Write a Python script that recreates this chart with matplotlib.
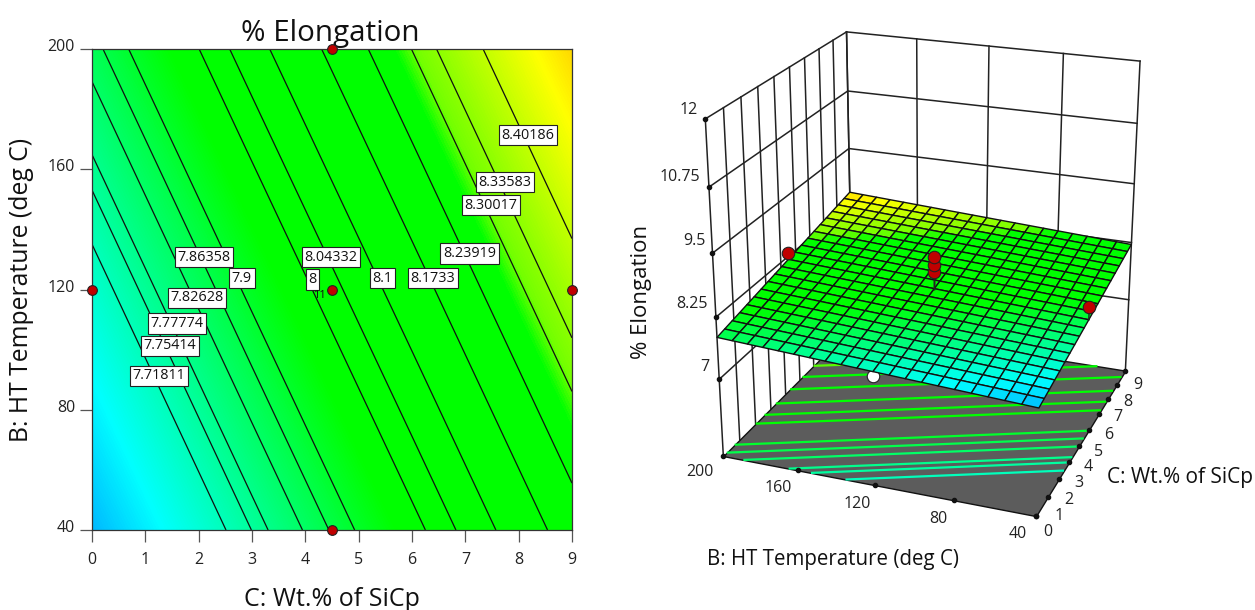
import numpy as np
import matplotlib
matplotlib.use('Agg')
import matplotlib.pyplot as plt
import matplotlib.tri as mtri
from matplotlib.colors import LinearSegmentedColormap, Normalize
from matplotlib.transforms import ScaledTranslation

plt.rcParams['font.family'] = ['Open Sans', 'DejaVu Sans']

# response table
c_grid = [0, 3, 6, 9]
b_grid = [40, 120, 200]
z_grid = [[7.528, 7.755, 7.981, 8.208],
          [7.688, 7.915, 8.141, 8.368],
          [7.848, 8.075, 8.301, 8.528]]

contour_levels = [7.71811, 7.75414, 7.77774, 7.82628, 7.86358, 7.9, 8.0, 8.04332,
                  8.1, 8.1733, 8.23919, 8.30017, 8.33583, 8.40186]
level_names = ['7.71811', '7.75414', '7.77774', '7.82628', '7.86358', '7.9', '8', '8.04332',
               '8.1', '8.1733', '8.23919', '8.30017', '8.33583', '8.40186']

design_c = [4.5, 4.5, 0, 9, 4.5]
design_b = [200, 40, 120, 120, 120]

c_ticks = list(range(10))
b_ticks = [40, 80, 120, 160, 200]
z_ticks = [7, 8.25, 9.5, 10.75, 12]
z_tick_names = ['7', '8.25', '9.5', '10.75', '12']

# points that stand over / under the 3D surface
above_c = [4.5, 4.5, 4.5, 4.5, 4.5]
above_b = [200, 40, 120, 120, 120]
above_z = [8.32, 8.12, 8.38, 8.52, 8.68]
below_c = [0]
below_b = [120]
below_z = [7.6]

Z = np.array(z_grid)
Cg, Bg = np.meshgrid(c_grid, b_grid)
cmap = LinearSegmentedColormap.from_list('de', [
    (0.0, (0, 0.72, 1)), (0.1, (0, 1, 1)), (0.43, (0, 1, 0)), (0.75, (0, 1, 0)),
    (0.78, (0.45, 1, 0)), (0.95, (1, 1, 0)), (1.0, (1, 0.85, 0))])
norm = Normalize(7.528, 8.528)

fig = plt.figure(figsize=(12.55, 6.1), dpi=100)
W, H = 1255., 610.


def px_rect(left, top, right, bottom):
    return [left / W, 1 - bottom / H, (right - left) / W, (bottom - top) / H]


def px_text(x, y, s, **kw):
    kw.setdefault('ha', 'center')
    kw.setdefault('va', 'center')
    kw.setdefault('fontsize', 11.5)
    kw.setdefault('color', '#222222')
    fig.text(x / W, 1 - y / H, s, **kw)


# left: contour plot
ax = fig.add_axes(px_rect(92, 49, 572, 530))
fill = ax.contourf(Cg, Bg, Z, levels=np.linspace(7.528, 8.528, 257), cmap=cmap, norm=norm,
                   extend='both')
ax.contour(Cg, Bg, Z, levels=contour_levels, colors='#101010', linewidths=0.9)
ax.set_xlim(0, 9)
ax.set_ylim(40, 200)
ax.set_xticks(c_ticks)
ax.set_yticks(b_ticks)
ax.tick_params(length=8.6, width=0.9, color='#555555', labelsize=11.5, labelcolor='#222222')
ax.tick_params(axis='x', pad=7)
ax.tick_params(axis='y', pad=3.6)
# the y tick labels sit a little above their ticks
up = ScaledTranslation(0, 4 / 100, fig.dpi_scale_trans)
for lab in ax.get_yticklabels():
    lab.set_transform(lab.get_transform() + up)
for sp in ax.spines.values():
    sp.set_color('#333333')
    sp.set_linewidth(0.9)
ax.set_title('% Elongation', fontsize=21.3, pad=6, x=0.496, color='#111111')
ax.set_xlabel('C: Wt.% of SiCp', fontsize=18, labelpad=14, color='#111111')
ax.set_ylabel('B: HT Temperature (deg C)', fontsize=17.8, labelpad=9.5, color='#111111')

label_x = [1.26, 1.46, 1.59, 1.97, 2.10, 2.81, 4.13, 4.48, 5.45, 6.39, 7.08, 7.48, 7.74, 8.17]
label_y = [91.3, 101.3, 108.7, 117.3, 130.7, 123.7, 123.3, 130.7, 123.7, 123.7, 132, 148, 155.7, 171.3]
for lx, ly, name in zip(label_x, label_y, level_names):
    ax.text(lx, ly, name, ha='center', va='center', fontsize=10.4, color='#111111', zorder=4,
            bbox=dict(boxstyle='square,pad=0.18', fc='white', ec='#222222', lw=0.8))
ax.text(4.27, 118, '11', ha='center', va='center', fontsize=8, color='#111111', zorder=4)
ax.plot(design_c, design_b, ls='none', marker='o', ms=7, mfc='#c00000', mec='#222222', mew=0.8,
        clip_on=False, zorder=6)

# right: response surface, camera fitted to the reference box corners
FLOOR = 5.4
ax3 = fig.add_axes([0, 0, 1, 1], projection='3d', computed_zorder=False)
ax3.set_xlim(0, 9, view_margin=0)
ax3.set_ylim(40, 200, view_margin=0)
ax3.set_zlim(FLOOR, 12, view_margin=0)
ax3.view_init(elev=22.424, azim=-159.425)
ax3.set_proj_type('persp', focal_length=0.5668)
ax3.set_box_aspect((0.9310, 0.9269, 1))
ax3.set_axis_off()
ax3.patch.set_alpha(0)
s, tx, ty = 3020.84, 934.30, 256.12
vl = ax3.viewLim
ax3.set_position(px_rect(tx + s * vl.x0, ty - s * vl.y1, tx + s * vl.x1, ty - s * vl.y0))

wall = dict(color='#222222', lw=1.1, zorder=1)
# left wall at B=200, back wall at C=9
for c in c_ticks:
    ax3.plot([c, c], [200, 200], [FLOOR, 12], **wall)
for b in b_ticks:
    ax3.plot([9, 9], [b, b], [FLOOR, 12], **wall)
for zt in z_ticks:
    ax3.plot([0, 9], [200, 200], [zt, zt], **wall)
    ax3.plot([9, 9], [200, 40], [zt, zt], **wall)
# tick dots along the front edges
dots = dict(ls='none', marker='o', ms=3, color='#111111', zorder=3)
ax3.plot([0] * 5, [200] * 5, z_ticks, **dots)

# floor with projected contours
fx, fy = np.meshgrid([0, 9], [40, 200])
ax3.plot_surface(fx, fy, np.full_like(fx, FLOOR, dtype=float), color='#5c5c5c', shade=False,
                 edgecolor='#111111', linewidth=1.0, zorder=2)
ax3.contour(Cg, Bg, Z, levels=contour_levels, cmap=cmap, norm=norm, zdir='z', offset=FLOOR,
            linewidths=1.6, zorder=3)
ax3.plot(c_ticks, [40] * 10, [FLOOR] * 10, **dots)
ax3.plot([0] * 5, b_ticks, [FLOOR] * 5, **dots)

# points under the surface go first
ax3.plot(below_c, below_b, below_z, ls='none', marker='o', ms=9, mfc='white', mec='#222222',
         mew=0.8, zorder=4)

# mesh
interp = mtri.LinearTriInterpolator(mtri.Triangulation(Cg.ravel(), Bg.ravel()), Z.ravel())
mc, mb = np.meshgrid(np.linspace(0, 9, 21), np.linspace(40, 200, 21))
mz = np.ma.filled(interp(mc, mb), np.nan)
cell = (mz[:-1, :-1] + mz[1:, 1:]) / 2
ax3.plot_surface(mc, mb, mz, facecolors=cmap(norm(cell)), rstride=1, cstride=1, shade=False,
                 edgecolor='#111111', linewidth=1.0, antialiased=True, zorder=5)

# stems and points over the surface
surf_z = np.ma.filled(interp(np.array(above_c, float), np.array(above_b, float)), np.nan)
for ci, bi, zi, zs in zip(above_c, above_b, above_z, surf_z):
    ax3.plot([ci, ci], [bi, bi], [zs, zi], color='#222222', lw=1.0, zorder=6)
ax3.plot(above_c, above_b, above_z, ls='none', marker='o', ms=9, mfc='#c00000', mec='#222222',
         mew=0.8, zorder=7)

# tick text of the 3D box
z_px = [(705, 367), (692, 304), (694, 241), (680, 177), (689, 110)]
for (x, y), name in zip(z_px, z_tick_names):
    px_text(x, y, name)
b_px = [(1018, 534), (938, 519), (857, 504), (778, 488), (700, 472)]
for (x, y), b in zip(b_px, b_ticks):
    px_text(x, y, str(b))
c_px = [(1048, 532), (1059, 516), (1069, 500), (1079, 483), (1088, 467), (1099, 452), (1109, 435),
        (1118, 417), (1128, 402), (1138, 385)]
for (x, y), c in zip(c_px, c_ticks):
    px_text(x, y, str(c))
px_text(833, 560, 'B: HT Temperature (deg C)', fontsize=14.8, color='#111111')
px_text(1180, 477, 'C: Wt.% of SiCp', fontsize=15, color='#111111')
px_text(642, 292, '% Elongation', fontsize=16, rotation=90, color='#111111')

fig.savefig('out.png', dpi=100)
